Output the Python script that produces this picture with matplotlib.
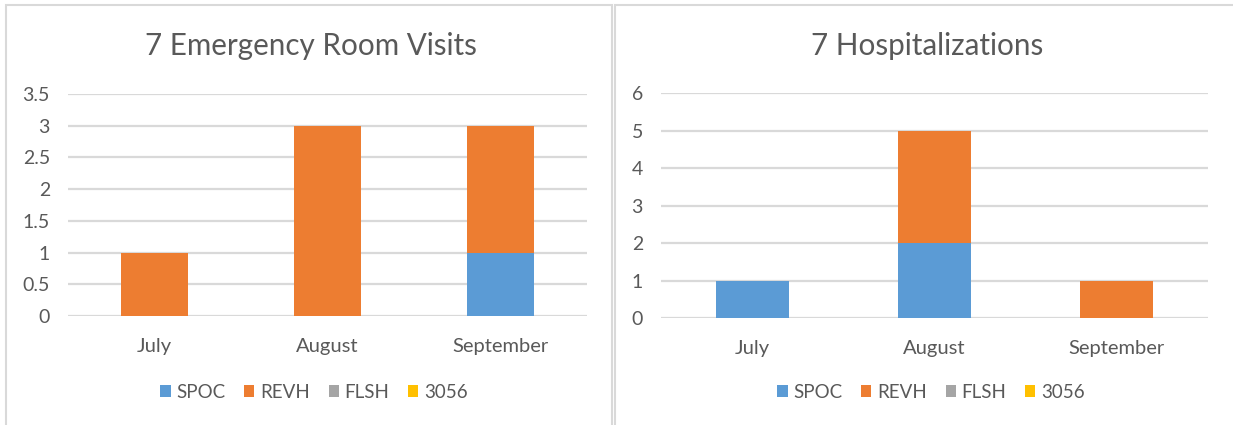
import matplotlib
matplotlib.use("Agg")
import matplotlib.pyplot as plt
from matplotlib.patches import Rectangle
import numpy as np

plt.rcParams['font.family'] = ['Lato', 'DejaVu Sans']

months = ["July", "August", "September"]
series_names = ["SPOC", "REVH", "FLSH", "3056"]
colors = ["#5B9BD5", "#ED7D31", "#A5A5A5", "#FFC000"]

er_spoc = [0, 0, 1]
er_revh = [1, 3, 2]
er_flsh = [0, 0, 0]
er_3056 = [0, 0, 0]

hosp_spoc = [1, 2, 0]
hosp_revh = [0, 3, 1]
hosp_flsh = [0, 0, 0]
hosp_3056 = [0, 0, 0]

er_ticks = [0, 0.5, 1, 1.5, 2, 2.5, 3, 3.5]
er_ticklabels = ["0", "0.5", "1", "1.5", "2", "2.5", "3", "3.5"]
hosp_ticks = [0, 1, 2, 3, 4, 5, 6]

W, H = 1233, 425
fig = plt.figure(figsize=(W / 100, H / 100), dpi=100)
fig.patch.set_facecolor("white")

TXT = "#595959"
GRID = "#D9D9D9"


def fx(px):
    return px / W


def fy(py):
    return 1 - py / H


# panel borders
for (x0, x1) in [(6, 612), (615, 1240)]:
    fig.patches.append(Rectangle((fx(x0), fy(440)), fx(x1 - x0), (440 - 5) / H,
                                 transform=fig.transFigure, fill=False,
                                 edgecolor=GRID, linewidth=1.5, zorder=0))


def draw(ax, data, ticks, ticklabels, ymax, bw):
    x = np.arange(len(months))
    bottom = np.zeros(len(months))
    for vals, name, c in zip(data, series_names, colors):
        v = np.array(vals, dtype=float)
        ax.bar(x, v, bw, bottom=bottom, color=c, label=name, zorder=3)
        bottom += v
    ax.set_xlim(-0.5, len(months) - 0.5)
    ax.set_ylim(0, ymax)
    ax.set_yticks(ticks)
    ax.set_yticklabels(ticklabels)
    ax.set_xticks(x)
    ax.set_xticklabels(months)
    ax.yaxis.grid(True, color=GRID, linewidth=1.6, zorder=0)
    ax.set_axisbelow(True)
    for s in ax.spines.values():
        s.set_visible(False)
    ax.tick_params(axis="y", length=0, pad=13, labelsize=14, labelcolor=TXT)
    ax.tick_params(axis="x", length=0, pad=15.5, labelsize=14.5, labelcolor=TXT)


ax1 = fig.add_axes([fx(68), fy(316), fx(587 - 68), (316 - 94) / H])
draw(ax1, [er_spoc, er_revh, er_flsh, er_3056], er_ticks, er_ticklabels, 3.5, 0.39)

ax2 = fig.add_axes([fx(661), fy(318), fx(1208 - 661), (318 - 93) / H])
draw(ax2, [hosp_spoc, hosp_revh, hosp_flsh, hosp_3056], hosp_ticks,
     [str(t) for t in hosp_ticks], 6, 0.40)

fig.text(fx(311), fy(46), "7 Emergency Room Visits", ha="center", va="center",
         fontsize=21.3, color=TXT)
fig.text(fx(927), fy(46), "7 Hospitalizations", ha="center", va="center",
         fontsize=21.3, color=TXT)

for ax, cx in [(ax1, 314), (ax2, 931)]:
    ax.legend(loc="center", bbox_to_anchor=(fx(cx), fy(392)),
              bbox_transform=fig.transFigure, ncol=4, frameon=False,
              handlelength=0.55, handleheight=0.55, handletextpad=0.3,
              columnspacing=1.0, fontsize=13.5, labelcolor=TXT)

fig.savefig("out.png", dpi=100, facecolor="white")
